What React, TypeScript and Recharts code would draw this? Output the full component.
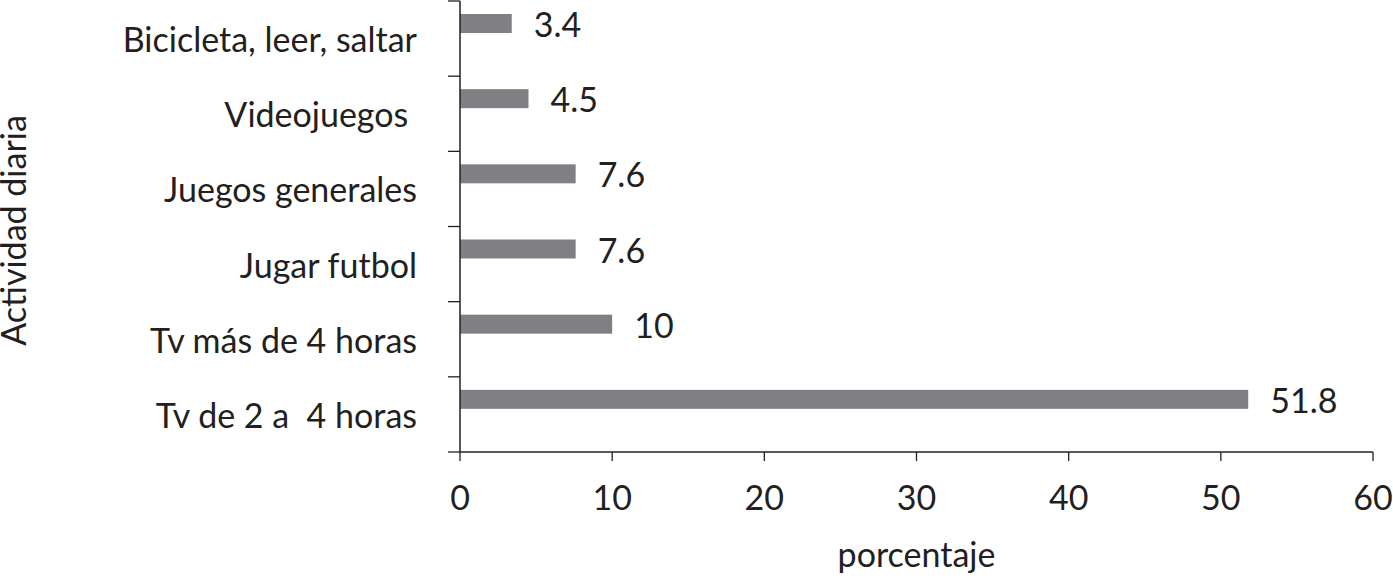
import { Bar, BarChart, XAxis, YAxis, LabelList } from "recharts";

const categories = [
  "Bicicleta, leer, saltar",
  "Videojuegos ",
  "Juegos generales",
  "Jugar futbol",
  "Tv más de 4 horas",
  "Tv de 2 a  4 horas",
];
const porcentaje = [3.4, 4.5, 7.6, 7.6, 10, 51.8];
const xTicks = [0, 10, 20, 30, 40, 50, 60];

const data = categories.map((name, i) => ({ name, value: porcentaje[i] }));

const W = 1393;
const H = 578;
const TOP = 1;
const X_AXIS_H = 126;
const Y_AXIS_W = 460;
const BAND = (H - TOP - X_AXIS_H) / categories.length;
const BAR_SHIFT = 15;
const INK = "#231f20";
const FONT = "Lato, 'Open Sans', sans-serif";
const FS = 34;

function CategoryTick(props: any) {
  const { y, payload, index } = props;
  const ax = Y_AXIS_W;
  return (
    <g>
      <line x1={ax - 12} x2={ax} y1={y - BAND / 2} y2={y - BAND / 2} stroke={INK} strokeWidth={1.3} />
      {index === categories.length - 1 && (
        <line x1={ax - 12} x2={ax} y1={y + BAND / 2} y2={y + BAND / 2} stroke={INK} strokeWidth={1.3} />
      )}
      <text
        x={ax - 43}
        y={y}
        textAnchor="end"
        dominantBaseline="central"
        fill={INK}
        fontSize={FS}
        fontFamily={FONT}
        style={{ whiteSpace: "pre" }}
      >
        {payload.value}
      </text>
    </g>
  );
}

function ShiftedBar(props: any) {
  const { x, y, width, height } = props;
  return <rect x={x} y={y - BAR_SHIFT} width={width} height={height} fill="#808084" />;
}

function ValueLabel(props: any) {
  const { x, y, width, height, value } = props;
  return (
    <text
      x={x + width + 22}
      y={y + height / 2 - BAR_SHIFT}
      dominantBaseline="central"
      fill={INK}
      fontSize={FS}
      fontFamily={FONT}
    >
      {value}
    </text>
  );
}

function YTitle(props: any) {
  const vb = props.viewBox || {};
  const cx = 12;
  const cy = (vb.y ?? 0) + (vb.height ?? 0) / 2 + 4;
  return (
    <text
      x={cx}
      y={cy}
      transform={`rotate(-90 ${cx} ${cy})`}
      textAnchor="middle"
      dominantBaseline="central"
      fill={INK}
      fontSize={FS}
      fontFamily={FONT}
    >
      Actividad diaria
    </text>
  );
}

export default function App() {
  return (
    <div style={{ width: W, height: H, background: "#fff" }}>
      <style>{"body{margin:0}"}</style>
      <BarChart
        width={W}
        height={H}
        data={data}
        layout="vertical"
        margin={{ top: TOP, right: 20, bottom: 0, left: 0 }}
      >
        <XAxis
          type="number"
          domain={[0, 60]}
          ticks={xTicks}
          height={X_AXIS_H}
          tickSize={9}
          tickMargin={25}
          axisLine={{ stroke: INK, strokeWidth: 1.5 }}
          tickLine={{ stroke: INK, strokeWidth: 1.3 }}
          tick={{ fill: INK, fontSize: FS, fontFamily: FONT }}
          label={{
            value: "porcentaje",
            position: "insideBottom",
            offset: 11,
            fill: INK,
            fontSize: FS,
            fontFamily: FONT,
          }}
        />
        <YAxis
          type="category"
          dataKey="name"
          width={Y_AXIS_W}
          axisLine={{ stroke: INK, strokeWidth: 1.5 }}
          tickLine={false}
          tick={<CategoryTick />}
          interval={0}
          label={{ value: "Actividad diaria", content: <YTitle /> }}
        />
        <Bar dataKey="value" barSize={19} shape={<ShiftedBar />} isAnimationActive={false}>
          <LabelList dataKey="value" content={<ValueLabel />} />
        </Bar>
      </BarChart>
    </div>
  );
}
